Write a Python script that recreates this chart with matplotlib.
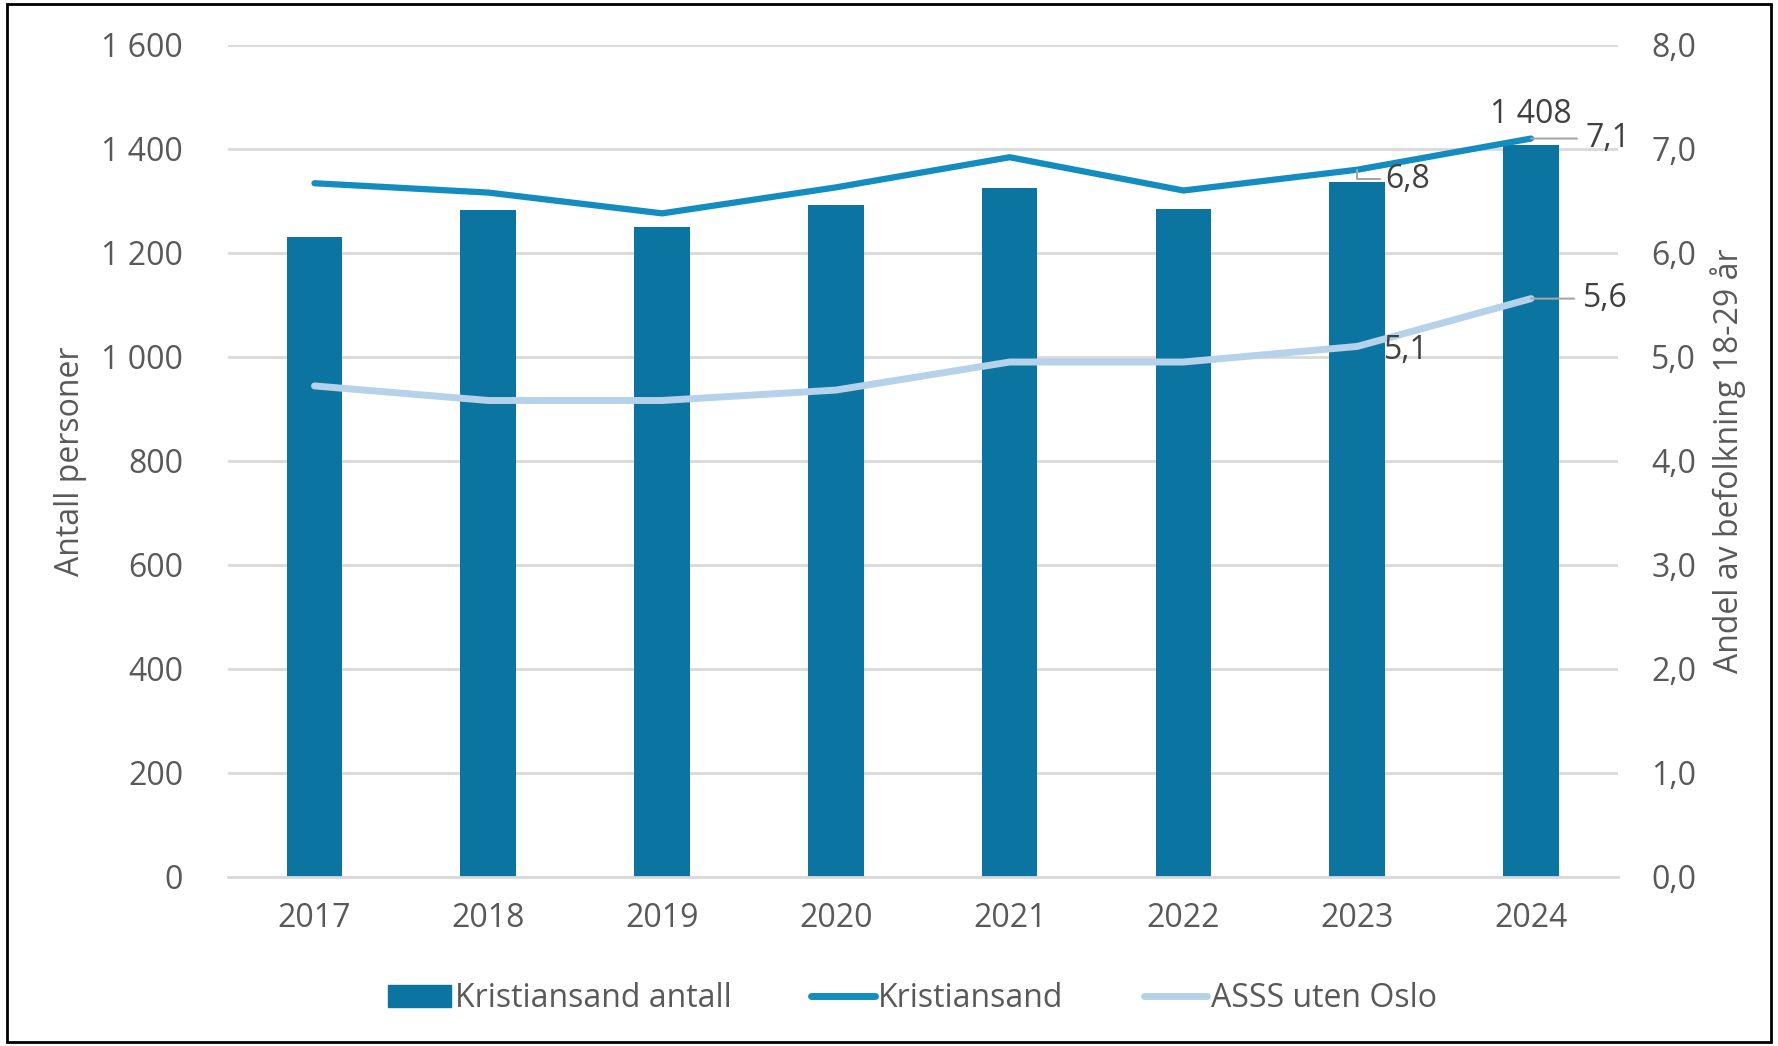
import matplotlib
matplotlib.use("Agg")
import matplotlib.pyplot as plt
from matplotlib.ticker import FuncFormatter, MultipleLocator
from matplotlib.lines import Line2D
from matplotlib.patches import Patch

years = ["2017", "2018", "2019", "2020", "2021", "2022", "2023", "2024"]
antall = [1230, 1282, 1250, 1293, 1325, 1284, 1336, 1408]
kristiansand = [6.67, 6.58, 6.38, 6.63, 6.92, 6.6, 6.8, 7.1]
asss = [4.72, 4.58, 4.58, 4.68, 4.95, 4.95, 5.1, 5.56]

bar_color = "#0b74a1"
line_color = "#138cc0"
light_color = "#b5d2ea"
text_color = "#595959"

plt.rcParams["font.family"] = ["Open Sans", "DejaVu Sans"]
fs = 23

fig = plt.figure(figsize=(17.78, 10.46), dpi=100)
ax = fig.add_axes([0.128, 0.162, 0.782, 0.795])
ax2 = ax.twinx()

x = range(len(years))
ax.bar(x, antall, width=0.32, color=bar_color, zorder=2)
ax2.plot(x, kristiansand, color=line_color, lw=4.5, solid_capstyle="round", zorder=3)
ax2.plot(x, asss, color=light_color, lw=5, solid_capstyle="round", zorder=3)

ax.set_ylim(0, 1600)
ax2.set_ylim(0, 8)
ax.set_xlim(-0.5, len(years) - 0.5)
ax.yaxis.set_major_locator(MultipleLocator(200))
ax2.yaxis.set_major_locator(MultipleLocator(1))
ax.yaxis.set_major_formatter(FuncFormatter(lambda v, p: f"{int(v):,}".replace(",", " ")))
ax2.yaxis.set_major_formatter(FuncFormatter(lambda v, p: f"{v:.1f}".replace(".", ",")))
ax.set_xticks(list(x))
ax.set_xticklabels(years)

ax.grid(axis="y", color="#d9d9d9", lw=2, zorder=0)
ax.set_axisbelow(True)
for a in (ax, ax2):
    for s in a.spines.values():
        s.set_visible(False)
    a.tick_params(length=0, labelsize=fs, colors=text_color, pad=12)
ax.spines["bottom"].set_visible(True)
ax.spines["bottom"].set_color("#d9d9d9")
ax.spines["bottom"].set_linewidth(2)
ax.tick_params(axis="y", pad=32)
ax.tick_params(axis="x", pad=18)
ax2.tick_params(axis="y", pad=24)

ax.set_ylabel("Antall personer", fontsize=fs, color=text_color, labelpad=10)
ax2.set_ylabel("Andel av befolkning 18-29 år", fontsize=fs, color=text_color, labelpad=10)

# dataetiketter
lab_color = "#404040"
leader = dict(arrowstyle="-", color="#a6a6a6", lw=1.5, shrinkA=4, shrinkB=0)
ax.annotate("1 408", (7, antall[7]), xytext=(0, 10), textcoords="offset points",
            ha="center", va="bottom", fontsize=fs, color=lab_color)
ax2.annotate("7,1", (7, kristiansand[7]), xytext=(39, 0), textcoords="offset points",
             ha="left", va="center", fontsize=fs, color=lab_color, arrowprops=leader)
ax2.annotate("6,8", (6, kristiansand[6]), xytext=(20, -7), textcoords="offset points",
             ha="left", va="center", fontsize=fs, color=lab_color,
             arrowprops=dict(leader, shrinkA=2, connectionstyle="angle,angleA=0,angleB=90,rad=0"))
ax2.annotate("5,6", (7, asss[7]), xytext=(37, 0), textcoords="offset points",
             ha="left", va="center", fontsize=fs, color=lab_color, arrowprops=leader)
ax2.annotate("5,1", (6, asss[6]), xytext=(19, -3), textcoords="offset points",
             ha="left", va="center", fontsize=fs, color=lab_color)

handles = [Patch(color=bar_color), Line2D([], [], color=line_color, lw=5, solid_capstyle="round"),
           Line2D([], [], color=light_color, lw=5, solid_capstyle="round")]
fig.legend(handles, ["Kristiansand antall", "Kristiansand", "ASSS uten Oslo"],
           loc="center", bbox_to_anchor=(0.513, 0.045), ncol=3, frameon=False,
           fontsize=fs, labelcolor=text_color, handlelength=2.0, handletextpad=0.1,
           columnspacing=2.5)

fig.patches.append(plt.Rectangle((0.004, 0.004), 0.992, 0.992, transform=fig.transFigure,
                                 fill=False, edgecolor="black", lw=2))

fig.savefig("out.png", dpi=100)
